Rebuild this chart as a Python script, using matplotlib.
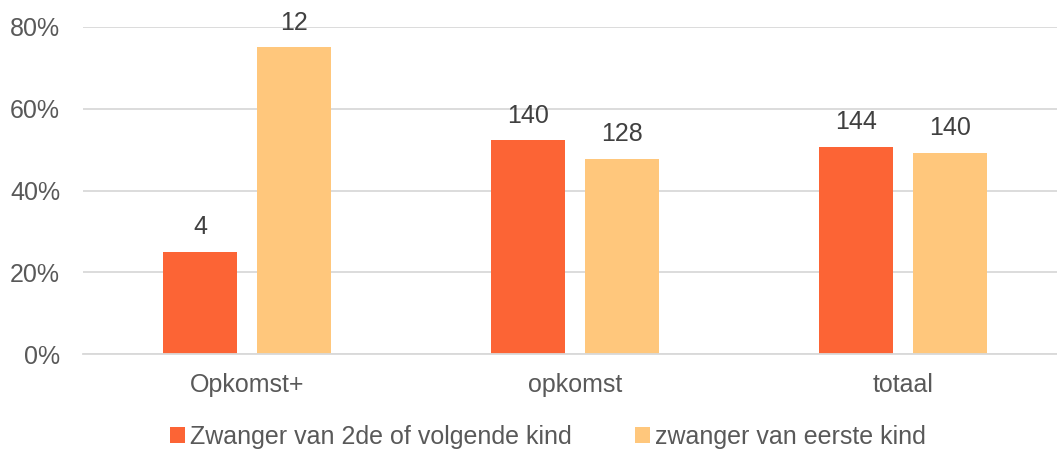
import matplotlib.pyplot as plt
import numpy as np

plt.rcParams['font.family'] = ['Liberation Sans', 'DejaVu Sans']

categories = ["Opkomst+", "opkomst", "totaal"]
series_names = ["Zwanger van 2de of volgende kind", "zwanger van eerste kind"]
counts_2de = [4, 140, 144]
counts_eerste = [12, 128, 140]

totals = np.array(counts_2de) + np.array(counts_eerste)
pct_2de = np.array(counts_2de) / totals
pct_eerste = np.array(counts_eerste) / totals

c_2de = "#FC6435"
c_eerste = "#FFC77C"

fig = plt.figure(figsize=(10.57, 4.51), dpi=100)
ax = fig.add_axes([83 / 1057, 97 / 451, 984 / 1057, 327 / 451])

x = np.arange(len(categories))
w = 0.226
off = 0.143
b1 = ax.bar(x - off, pct_2de, w, color=c_2de, label=series_names[0])
b2 = ax.bar(x + off, pct_eerste, w, color=c_eerste, label=series_names[1])

for bars, vals in [(b1, counts_2de), (b2, counts_eerste)]:
    for r, v in zip(bars, vals):
        ax.annotate(str(v), (r.get_x() + r.get_width() / 2, r.get_height()),
                    xytext=(0, 9), textcoords="offset points", ha="center", va="bottom",
                    fontsize=18, color="#404040", annotation_clip=False)

ax.set_xlim(-0.5, 2.5)
ax.set_ylim(0, 0.8)
ax.set_yticks([0, 0.2, 0.4, 0.6, 0.8])
ax.set_yticklabels(["0%", "20%", "40%", "60%", "80%"])
ax.set_xticks(x)
ax.set_xticklabels(categories)
ax.tick_params(axis="both", length=0, labelsize=18, labelcolor="#595959")
ax.tick_params(axis="y", pad=16.5)
ax.tick_params(axis="x", pad=14)
ax.yaxis.grid(True, color="#D9D9D9", linewidth=1.3)
ax.set_axisbelow(True)
for s in ["top", "right", "left"]:
    ax.spines[s].set_visible(False)
ax.spines["bottom"].set_color("#D9D9D9")
ax.spines["bottom"].set_linewidth(1.3)

fig.legend(handles=[b1, b2], loc="center", bbox_to_anchor=(548 / 1057, 1 - 437 / 451),
           ncol=2, frameon=False, fontsize=18, labelcolor="#595959",
           handlelength=0.6, handleheight=0.6, handletextpad=0.2, columnspacing=2.5)

fig.savefig("out.png", dpi=100)
